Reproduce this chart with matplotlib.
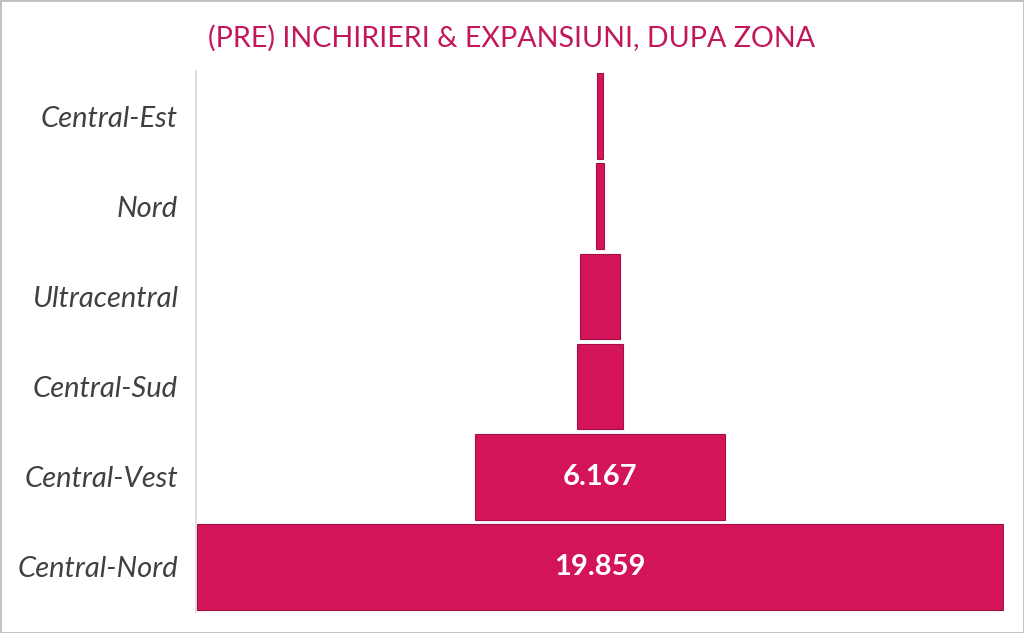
import matplotlib
matplotlib.use("Agg")
import matplotlib.pyplot as plt
from matplotlib.patches import Rectangle

categories = ["Central-Est", "Nord", "Ultracentral", "Central-Sud", "Central-Vest", "Central-Nord"]
values = [125, 220, 985, 1115, 6167, 19859]
labelled = [False, False, False, False, True, True]

bar_color = "#D4145A"
edge_color = "#A50E45"
title_color = "#C2185B"
text_color = "#404040"

plt.rcParams['font.family'] = ['Lato', 'DejaVu Sans']

fig = plt.figure(figsize=(10.24, 6.33), dpi=100)
W, H = 1024, 633
ax = fig.add_axes([196 / W, 1 - 612 / H, (1004 - 196) / W, (612 - 71) / H])

n = len(categories)
ypos = [n - 1 - i for i in range(n)]
lefts = [-v / 2 for v in values]
ax.barh(ypos, values, left=lefts, height=0.95, color=bar_color,
        edgecolor=edge_color, linewidth=0.8)

for y, v, show in zip(ypos, values, labelled):
    if show:
        txt = f"{v:,}".replace(",", ".")
        ax.text(0, y, txt, ha="center", va="center", color="white",
                fontsize=21, fontweight="bold")

half = max(values) / 2 * 808 / 806
ax.set_xlim(-half, half)
ax.set_ylim(-0.5, n - 0.5)
ax.set_yticks(ypos)
ax.set_yticklabels(categories, fontsize=21, style="italic", color=text_color)
ax.tick_params(axis="y", length=0, pad=13)
ax.set_xticks([])
for s in ["top", "right", "bottom"]:
    ax.spines[s].set_visible(False)
ax.spines["left"].set_color("#D9D9D9")
ax.spines["left"].set_linewidth(1.2)

fig.text(512 / W, 1 - 38 / H, "(PRE) INCHIRIERI & EXPANSIUNI, DUPA ZONA",
         ha="center", va="center", color=title_color, fontsize=20.6)

fig.patches.append(Rectangle((0, 0), 1, 1, transform=fig.transFigure,
                             fill=False, edgecolor="#BFBFBF", linewidth=2))

fig.savefig("out.png", dpi=100)
